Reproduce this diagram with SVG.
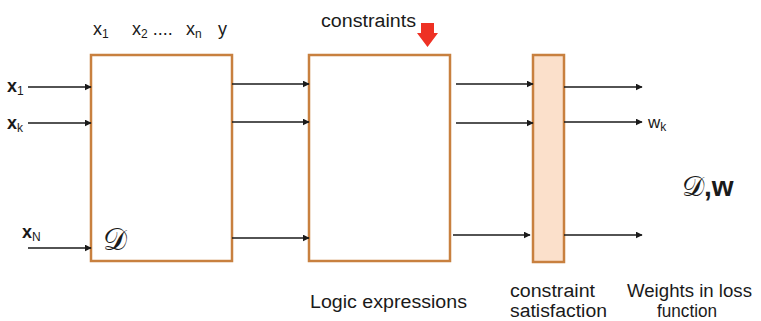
<svg xmlns="http://www.w3.org/2000/svg" width="761" height="321" viewBox="0 0 761 321">
  <style>
    .box { fill: #ffffff; stroke: #c8803f; stroke-width: 2.5; }
    .sat { fill: #fbe0cb; stroke: #c8803f; stroke-width: 2.5; }
    .wire { stroke: #1a1a1a; stroke-width: 1.6; fill: none; marker-end: url(#head); }
    .t { font-family: "Liberation Sans", Arial, sans-serif; fill: #1a1a1a; }
    .lbl { font-size: 18px; }
    .var { font-size: 18px; }
    .bold { font-weight: bold; font-size: 18px; }
    .sub { font-size: 12px; font-weight: normal; }
    .script { font-family: "DejaVu Serif", "Liberation Serif", serif; fill: #1a1a1a; }
  </style>
  <defs>
    <marker id="head" viewBox="0 0 10 10" refX="9" refY="5" markerWidth="7" markerHeight="7" markerUnits="userSpaceOnUse" orient="auto">
      <path d="M0,0 L10,5 L0,10 z" fill="#1a1a1a"/>
    </marker>
  </defs>

  <rect width="761" height="321" fill="#ffffff"/>

  <!-- data block D -->
  <g id="data">
    <rect class="box" x="91" y="55" width="141" height="206"/>
    <text class="script" x="103" y="250" font-size="30">𝒟</text>
  </g>

  <!-- logic expressions block -->
  <g id="logic">
    <rect class="box" x="309" y="55" width="141" height="206"/>
  </g>

  <!-- constraint satisfaction block -->
  <g id="satisfaction">
    <rect class="sat" x="533" y="55" width="31" height="207"/>
  </g>

  <!-- constraints injection arrow -->
  <g id="constraints">
    <path d="M421,23 L434,23 L434,33 L438,33 L427.5,47 L417,33 L421,33 z" fill="#ee3124"/>
    <text class="t lbl" x="321" y="27" textLength="95" lengthAdjust="spacingAndGlyphs">constraints</text>
  </g>

  <!-- connectors -->
  <g id="connectors">
    <line class="wire" x1="28" y1="87" x2="91" y2="87"/>
    <line class="wire" x1="28" y1="123" x2="91" y2="123"/>
    <line class="wire" x1="28" y1="248" x2="91" y2="248" stroke-width="2.4"/>

    <line class="wire" x1="232" y1="84" x2="309" y2="84"/>
    <line class="wire" x1="232" y1="122" x2="309" y2="122"/>
    <line class="wire" x1="232" y1="238" x2="309" y2="238"/>

    <line class="wire" x1="456" y1="84" x2="533" y2="84"/>
    <line class="wire" x1="456" y1="123" x2="533" y2="123"/>
    <line class="wire" x1="453" y1="235" x2="530" y2="235"/>

    <line class="wire" x1="564" y1="87" x2="642" y2="87"/>
    <line class="wire" x1="564" y1="122" x2="642" y2="122"/>
    <line class="wire" x1="564" y1="235" x2="642" y2="235"/>
  </g>

  <!-- input labels -->
  <g id="inputs">
    <text class="t bold" x="7" y="92">x<tspan class="sub" dy="3">1</tspan></text>
    <text class="t bold" x="7" y="129">x<tspan class="sub" dy="3">k</tspan></text>
    <text class="t bold" x="22" y="238" font-size="16">x<tspan class="sub" font-size="11" dy="3">N</tspan></text>
  </g>

  <!-- column labels over D -->
  <g id="columns">
    <text class="t var" x="93" y="35">x<tspan class="sub" dy="3">1</tspan></text>
    <text class="t var" x="132" y="35">x<tspan class="sub" dy="3">2</tspan><tspan dy="-3"> ....</tspan></text>
    <text class="t var" x="186" y="35">x<tspan class="sub" dy="3">n</tspan></text>
    <text class="t var" x="218" y="35">y</text>
  </g>

  <!-- outputs -->
  <g id="outputs">
    <text class="t" x="648" y="128" font-size="17">w<tspan class="sub" dy="3">k</tspan></text>
    <text class="script" x="682" y="196" font-size="28">𝒟<tspan font-family="Liberation Sans, Arial, sans-serif" font-weight="bold">,w</tspan></text>
  </g>

  <!-- captions -->
  <g id="captions">
    <text class="t lbl" x="310" y="308" textLength="157" lengthAdjust="spacingAndGlyphs">Logic expressions</text>
    <text class="t lbl" x="510" y="297" textLength="85" lengthAdjust="spacingAndGlyphs">constraint</text>
    <text class="t lbl" x="510" y="317" textLength="97" lengthAdjust="spacingAndGlyphs">satisfaction</text>
    <text class="t lbl" x="627" y="297" textLength="125" lengthAdjust="spacingAndGlyphs">Weights in loss</text>
    <text class="t lbl" x="657" y="317" textLength="60" lengthAdjust="spacingAndGlyphs">function</text>
  </g>
</svg>
